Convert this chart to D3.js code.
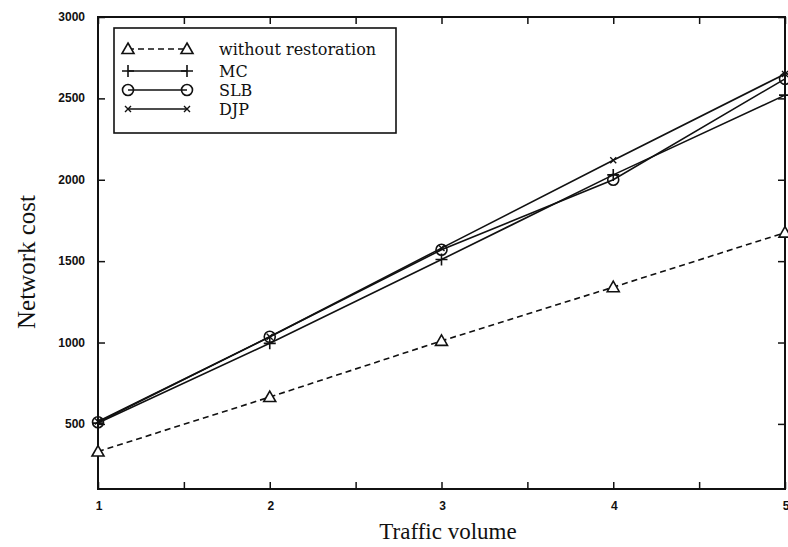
<!DOCTYPE html>
<html>
<head>
<meta charset="utf-8">
<script src="https://cdn.jsdelivr.net/npm/d3@7"></script>
<style>
  html, body { margin: 0; padding: 0; background: #fff; }
  svg { display: block; }
</style>
</head>
<body>
<svg id="chart" width="788" height="547"></svg>
<script>
// Traffic volume on the x axis
const trafficVolume = [1, 2, 3, 4, 5];

// Network cost for each scheme
const withoutRestoration = [330, 665, 1010, 1340, 1675];
const mcCost  = [505, 995, 1510, 2030, 2520];
const slbCost = [510, 1035, 1570, 2000, 2620];
const djpCost = [515, 1035, 1580, 2120, 2650];

const seriesNames = ["without restoration", "MC", "SLB", "DJP"];
const yTickValues = [500, 1000, 1500, 2000, 2500, 3000];
const xTickValues = [1, 2, 3, 4, 5];
const xMinorTicks = [1, 1.5, 2, 2.5, 3, 3.5, 4, 4.5, 5];

const svg = d3.select("#chart");
const plot = { left: 98, right: 785, top: 17, bottom: 489 };

const x = d3.scaleLinear().domain([1, 5]).range([plot.left, plot.right]);
const y = d3.scaleLinear().domain([100, 3000]).range([plot.bottom, plot.top]);

const ink = "#111";
const serif = "'Liberation Serif', 'Times New Roman', serif";
const legendFont = "'DejaVu Serif', serif";
const sans = "'Liberation Sans', Arial, sans-serif";

// Frame
svg.append("rect")
  .attr("x", plot.left).attr("y", plot.top)
  .attr("width", plot.right - plot.left).attr("height", plot.bottom - plot.top)
  .attr("fill", "none").attr("stroke", ink).attr("stroke-width", 2);

// Axes with inward ticks
const tickLen = 7;
const xAxisBottom = d3.axisBottom(x).tickValues(xMinorTicks).tickSizeInner(-tickLen).tickSizeOuter(0).tickFormat("");
const xAxisTop = d3.axisTop(x).tickValues(xMinorTicks).tickSizeInner(-tickLen).tickSizeOuter(0).tickFormat("");
const yAxisLeft = d3.axisLeft(y).tickValues(yTickValues).tickSizeInner(-tickLen).tickSizeOuter(0).tickFormat("");
const yAxisRight = d3.axisRight(y).tickValues(yTickValues).tickSizeInner(-tickLen).tickSizeOuter(0).tickFormat("");

function styleAxis(g) {
  g.select(".domain").remove();
  g.selectAll(".tick line").attr("stroke", ink).attr("stroke-width", 1.5);
}
svg.append("g").attr("transform", `translate(0,${plot.bottom})`).call(xAxisBottom).call(styleAxis);
svg.append("g").attr("transform", `translate(0,${plot.top})`).call(xAxisTop).call(styleAxis);
svg.append("g").attr("transform", `translate(${plot.left},0)`).call(yAxisLeft).call(styleAxis);
svg.append("g").attr("transform", `translate(${plot.right},0)`).call(yAxisRight).call(styleAxis);

// Tick labels
svg.append("g").selectAll("text").data(yTickValues).join("text")
  .attr("x", plot.left - 13).attr("y", d => y(d) + 4)
  .attr("text-anchor", "end")
  .attr("font-family", sans).attr("font-size", 12).attr("font-weight", "bold")
  .attr("fill", ink)
  .text(d => d);

svg.append("g").selectAll("text").data(xTickValues).join("text")
  .attr("x", d => x(d) + 1).attr("y", plot.bottom + 21)
  .attr("text-anchor", "middle")
  .attr("font-family", sans).attr("font-size", 12).attr("font-weight", "bold")
  .attr("fill", ink)
  .text(d => d);

// Axis titles
svg.append("text")
  .attr("x", 448).attr("y", 539)
  .attr("text-anchor", "middle")
  .attr("font-family", serif).attr("font-size", 23)
  .attr("fill", ink)
  .text("Traffic volume");

svg.append("text")
  .attr("transform", `translate(35,262) rotate(-90)`)
  .attr("text-anchor", "middle")
  .attr("font-family", serif).attr("font-size", 25)
  .attr("fill", ink)
  .text("Network cost");

// Marker symbols
function drawMarker(g, kind, cx, cy) {
  if (kind === "triangle") {
    const s = 6;
    g.append("path")
      .attr("d", `M${cx},${cy - s} L${cx + s},${cy + s * 0.75} L${cx - s},${cy + s * 0.75} Z`)
      .attr("fill", "#fff").attr("stroke", ink).attr("stroke-width", 1.6);
  } else if (kind === "plus") {
    const s = 6;
    g.append("path")
      .attr("d", `M${cx - s},${cy} H${cx + s} M${cx},${cy - s} V${cy + s}`)
      .attr("stroke", ink).attr("stroke-width", 1.6).attr("fill", "none");
  } else if (kind === "circle") {
    g.append("circle").attr("cx", cx).attr("cy", cy).attr("r", 5.5)
      .attr("fill", "none").attr("stroke", ink).attr("stroke-width", 1.6);
  } else if (kind === "cross") {
    const s = 3;
    g.append("path")
      .attr("d", `M${cx - s},${cy - s} L${cx + s},${cy + s} M${cx - s},${cy + s} L${cx + s},${cy - s}`)
      .attr("stroke", ink).attr("stroke-width", 1.4).attr("fill", "none");
  }
}

const series = [
  { name: seriesNames[0], values: withoutRestoration, marker: "triangle", dash: "6,4", width: 1.6 },
  { name: seriesNames[1], values: mcCost, marker: "plus", dash: null, width: 1.6 },
  { name: seriesNames[2], values: slbCost, marker: "circle", dash: null, width: 1.6 },
  { name: seriesNames[3], values: djpCost, marker: "cross", dash: null, width: 1.6 }
];

const line = d3.line().x(d => x(d[0])).y(d => y(d[1]));

const dataLayer = svg.append("g");
series.forEach(s => {
  const pts = trafficVolume.map((t, i) => [t, s.values[i]]);
  dataLayer.append("path")
    .attr("d", line(pts))
    .attr("fill", "none").attr("stroke", ink).attr("stroke-width", s.width)
    .attr("stroke-dasharray", s.dash);
});
series.forEach(s => {
  trafficVolume.forEach((t, i) => drawMarker(dataLayer, s.marker, x(t), y(s.values[i])));
});

// Legend
const legend = svg.append("g");
legend.append("rect")
  .attr("x", 114).attr("y", 28).attr("width", 282).attr("height", 105)
  .attr("fill", "#fff").attr("stroke", ink).attr("stroke-width", 1.6);

const legendRows = [49, 71, 90, 109];
series.forEach((s, i) => {
  const ly = legendRows[i];
  legend.append("line")
    .attr("x1", 128).attr("x2", 187).attr("y1", ly).attr("y2", ly)
    .attr("stroke", ink).attr("stroke-width", s.width)
    .attr("stroke-dasharray", s.dash);
  drawMarker(legend, s.marker, 128, ly);
  drawMarker(legend, s.marker, 187, ly);
  legend.append("text")
    .attr("x", 219).attr("y", ly + 6)
    .attr("font-family", legendFont).attr("font-size", 16)
    .attr("fill", ink)
    .text(s.name);
});
</script>
</body>
</html>
